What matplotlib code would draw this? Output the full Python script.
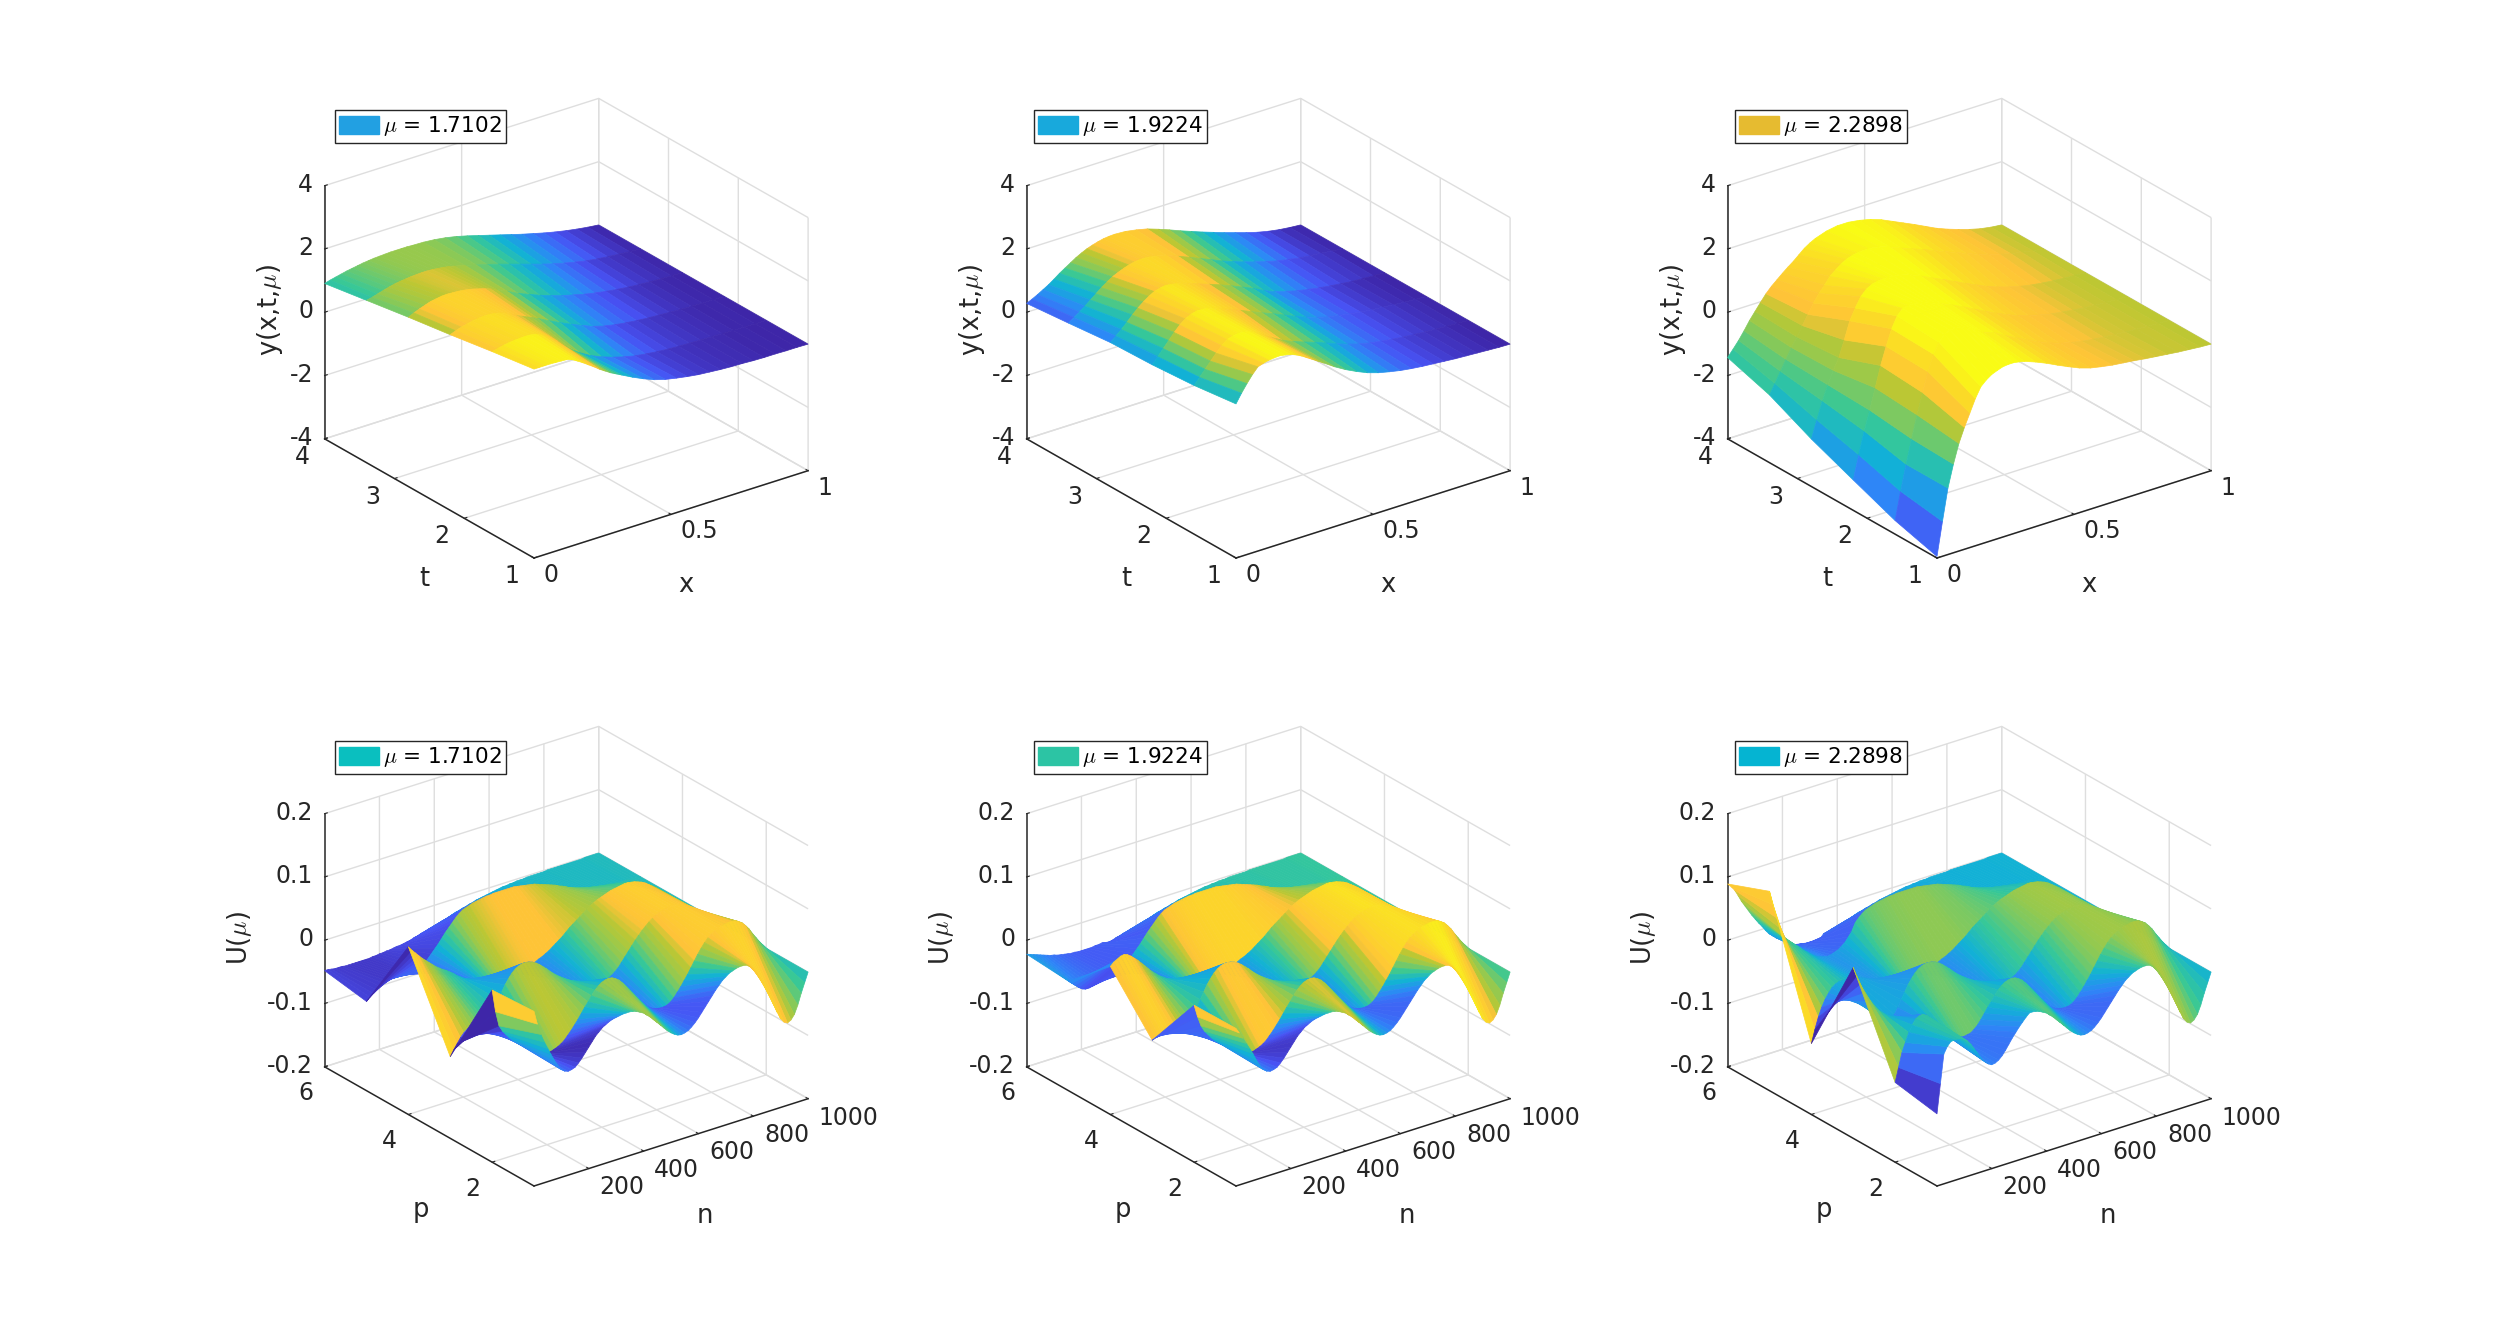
import matplotlib
matplotlib.use("Agg")
import matplotlib.pyplot as plt
import numpy as np
from matplotlib.colors import LinearSegmentedColormap, Normalize
from matplotlib.patches import Patch
from mpl_toolkits.mplot3d import proj3d

plt.rcParams['font.family'] = 'DejaVu Sans'
plt.rcParams['mathtext.fontset'] = 'cm'
plt.rcParams['grid.color'] = '#dedede'
plt.rcParams['grid.linewidth'] = 1.0

# --- values ---
x_grid = [i * 0.02 for i in range(17)] + [0.32 + i * 0.04 for i in range(1, 18)]
t_grid = [1, 1.6, 2.2, 2.8, 3.4, 4]
n_grid = [i * 12.5 for i in range(81)]
p_grid = [1, 2, 3, 4, 5, 6]

y_a = [
    [1.97,1.97,1.97,1.97,1.96,1.95,1.94,1.88,1.78,1.67,1.55,1.43,1.30,1.19,1.08,.99,.90,
     .72,.56,.42,.32,.25,.19,.14,.11,.08,.06,.05,.03,.02,.02,.01,.01,0],
    [1.77,1.81,1.85,1.88,1.90,1.91,1.92,1.91,1.88,1.80,1.70,1.57,1.42,1.26,1.10,.97,.85,
     .65,.50,.38,.28,.20,.15,.11,.08,.06,.05,.04,.03,.02,.01,.01,0,0],
    [1.55,1.62,1.68,1.72,1.76,1.78,1.80,1.80,1.78,1.74,1.68,1.60,1.50,1.42,1.34,1.26,1.18,
     1.00,.83,.67,.52,.38,.28,.21,.16,.12,.09,.07,.05,.03,.02,.01,.01,0],
    [1.35,1.43,1.50,1.56,1.62,1.65,1.68,1.69,1.68,1.67,1.65,1.62,1.58,1.53,1.48,1.42,1.35,
     1.18,1.00,.86,.72,.60,.49,.40,.31,.24,.18,.13,.09,.06,.04,.02,.01,0],
    [1.13,1.17,1.22,1.27,1.32,1.36,1.39,1.41,1.43,1.44,1.45,1.45,1.44,1.42,1.40,1.37,1.33,
     1.24,1.15,1.05,.95,.84,.73,.62,.51,.41,.32,.24,.17,.12,.08,.05,.02,0],
    [.91,.96,1.00,1.04,1.08,1.11,1.14,1.17,1.19,1.21,1.22,1.23,1.24,1.24,1.24,1.24,1.23,
     1.22,1.19,1.14,1.07,.98,.88,.78,.68,.58,.48,.39,.30,.22,.15,.09,.04,0],
]
y_b = [
    [.87,1.15,1.40,1.63,1.82,1.88,1.92,1.94,1.95,1.92,1.88,1.81,1.72,1.61,1.50,1.39,1.28,
     1.05,.85,.68,.53,.42,.34,.27,.22,.18,.15,.12,.09,.07,.05,.03,.01,0],
    [.70,.90,1.10,1.30,1.50,1.68,1.82,1.87,1.90,1.89,1.85,1.77,1.68,1.56,1.45,1.35,1.25,
     1.10,.97,.85,.72,.58,.46,.36,.28,.22,.17,.13,.10,.07,.05,.03,.01,0],
    [.60,.80,1.00,1.20,1.40,1.58,1.72,1.80,1.85,1.85,1.83,1.78,1.72,1.65,1.58,1.51,1.44,
     1.29,1.14,1.00,.85,.70,.56,.44,.35,.28,.22,.17,.13,.10,.07,.04,.02,0],
    [.55,.70,.85,1.02,1.20,1.36,1.50,1.62,1.72,1.77,1.80,1.78,1.75,1.70,1.65,1.59,1.52,
     1.40,1.27,1.13,.98,.83,.65,.50,.40,.31,.24,.18,.13,.09,.05,.03,.01,0],
    [.41,.53,.65,.78,.92,1.06,1.20,1.32,1.43,1.51,1.58,1.64,1.68,1.70,1.70,1.68,1.65,
     1.55,1.42,1.28,1.13,.98,.83,.70,.58,.47,.37,.28,.21,.15,.11,.08,.04,0],
    [.28,.36,.45,.55,.65,.77,.90,1.01,1.12,1.23,1.32,1.40,1.46,1.51,1.55,1.57,1.58,
     1.56,1.50,1.42,1.30,1.17,1.03,.90,.77,.65,.53,.42,.31,.21,.13,.07,.03,0],
]
y_c = [
    [-3.95,-2.90,-1.90,-1.20,-.60,-.15,.25,.65,.97,1.13,1.25,1.32,1.38,1.40,1.40,1.37,1.33,
     1.20,1.05,.88,.72,.57,.46,.39,.33,.29,.25,.20,.16,.12,.08,.05,.02,0],
    [-3.57,-2.70,-1.90,-1.15,-.45,.20,.80,1.30,1.62,1.82,1.90,1.90,1.88,1.80,1.72,1.62,1.50,
     1.38,1.18,1.00,.82,.65,.50,.38,.29,.22,.17,.13,.10,.07,.05,.03,.01,0],
    [-3.04,-2.30,-1.60,-1.00,-.35,.30,.85,1.35,1.70,1.88,1.92,1.92,1.88,1.84,1.78,1.72,1.65,
     1.50,1.33,1.15,.97,.80,.64,.50,.39,.30,.22,.17,.12,.08,.05,.03,.01,0],
    [-2.50,-1.95,-1.40,-.95,-.55,-.20,.30,.85,1.20,1.50,1.68,1.78,1.82,1.84,1.84,1.82,1.80,
     1.70,1.55,1.38,1.22,1.05,.88,.72,.56,.43,.32,.23,.16,.11,.07,.04,.02,0],
    [-1.86,-1.55,-1.22,-.90,-.58,-.30,0,.30,.60,.85,1.05,1.28,1.42,1.55,1.65,1.71,1.75,
     1.77,1.72,1.60,1.46,1.33,1.19,1.05,.90,.77,.62,.49,.37,.27,.18,.11,.05,0],
    [-1.43,-1.22,-1.00,-.75,-.48,-.25,-.02,.20,.38,.53,.68,.82,.95,1.10,1.25,1.36,1.45,
     1.57,1.63,1.63,1.58,1.50,1.38,1.22,1.06,.90,.73,.56,.42,.30,.19,.10,.04,0],
]

# U rows shared by the three lower panels, away from n = 0
u_rows = [
    [.076,.054,.036,.022,.010,-.001,-.012,-.022,-.030,-.034,
     -.036,-.035,-.033,-.028,-.022,-.015,-.008,-.001,.006,.011,
     .016,.019,.022,.024,.025,.026,.027,.027,.027,.026,
     .024,.021,.018,.013,.008,.002,-.004,-.010,-.016,-.022,
     -.027,-.031,-.034,-.035,-.034,-.032,-.028,-.023,-.017,-.010,
     -.003,.004,.011,.018,.024,.030,.034,.038,.040,.042,
     .043,.043,.042,.038,.032,.024,.015,.004,-.008,-.021,
     -.035,-.048,-.060,-.067,-.070,-.067,-.060,-.047,-.030,-.015, 0],
    [.072,.036,.012,.002,-.005,-.012,-.018,-.023,-.028,-.032,
     -.036,-.040,-.045,-.049,-.052,-.054,-.055,-.055,-.053,-.051,
     -.048,-.044,-.038,-.032,-.025,-.018,-.010,-.002,.005,.013,
     .020,.025,.029,.031,.032,.031,.028,.024,.018,.011,
     .004,-.004,-.012,-.019,-.026,-.031,-.035,-.038,-.040,-.041,
     -.041,-.040,-.037,-.032,-.025,-.018,-.010,-.002,.007,.016,
     .025,.033,.040,.046,.050,.053,.056,.058,.059,.060,
     .060,.059,.056,.052,.046,.039,.030,.022,.014,.007, 0],
    [-.071,-.062,-.054,-.046,-.040,-.036,-.033,-.031,-.030,-.030,
     -.030,-.029,-.025,-.016,-.005,.005,.015,.023,.030,.035,
     .038,.040,.040,.039,.037,.034,.030,.025,.020,.014,
     .008,.001,-.005,-.010,-.015,-.019,-.022,-.025,-.027,-.029,
     -.030,-.031,-.031,-.031,-.030,-.029,-.027,-.024,-.020,-.015,
     -.008,-.001,.006,.013,.020,.026,.032,.037,.042,.046,
     .049,.051,.053,.054,.055,.055,.055,.054,.052,.049,
     .046,.041,.036,.031,.025,.020,.015,.010,.006,.003, 0],
    [.065,.058,.052,.046,.040,.035,.030,.025,.020,.016,
     .012,.009,.005,.001,-.004,-.008,-.012,-.015,-.017,-.019,
     -.021,-.023,-.024,-.026,-.027,-.028,-.029,-.030,-.030,-.031,
     -.031,-.031,-.031,-.030,-.028,-.027,-.025,-.023,-.020,-.018,
     -.015,-.012,-.008,-.004,.000,.004,.009,.014,.018,.022,
     .026,.030,.034,.038,.041,.044,.046,.048,.050,.052,
     .053,.054,.055,.056,.056,.055,.054,.052,.050,.047,
     .043,.039,.035,.030,.025,.020,.015,.011,.007,.003, 0],
    [-.059,-.054,-.050,-.046,-.042,-.039,-.037,-.036,-.036,-.036,
     -.036,-.036,-.037,-.038,-.038,-.036,-.033,-.028,-.022,-.016,
     -.010,-.004,.003,.010,.016,.022,.028,.033,.037,.039,
     .041,.043,.044,.045,.046,.047,.047,.048,.048,.048,
     .048,.048,.048,.048,.047,.046,.045,.044,.043,.042,
     .040,.038,.036,.034,.032,.030,.027,.025,.022,.019,
     .017,.015,.013,.011,.010,.009,.008,.007,.006,.005,
     .005,.004,.003,.003,.002,.002,.002,.001,.001,.001, 0],
    [-.048,-.048,-.049,-.050,-.050,-.050,-.051,-.051,-.051,-.051,
     -.051,-.051,-.051,-.051,-.050,-.050,-.049,-.049,-.048,-.048,
     -.047,-.046,-.046,-.045,-.044,-.043,-.041,-.040,-.038,-.037,
     -.035,-.034,-.032,-.031,-.029,-.028,-.026,-.024,-.022,-.021,
     -.019,-.018,-.016,-.015,-.013,-.012,-.011,-.010,-.009,-.008,
     -.007,-.006,-.005,-.005,-.004,-.004,-.003,-.003,-.003,-.002,
     -.002,-.002,-.002,-.002,-.002,-.001,-.001,-.001,-.001,-.001,
     -.001,-.001,-.001,-.001,-.001,-.001,0,0,0,0, 0],
]
# first columns of each row, which differ from panel to panel
u_left_a = [[], [], [], [], [], []]
u_left_b = [
    [.049,.040,.030,.020,.010,0],
    [.048,.028,.012],
    [-.045,-.043,-.042,-.041,-.040,-.039,-.038,-.037,-.037,-.036,-.036],
    [.034,.039,.042,.045,.046,.044,.040,.035,.030,.024,.018,.012,.006,.001],
    [-.027,-.032,-.037,-.042,-.046,-.048,-.048,-.047,-.046,-.045,-.044,-.042,-.040,-.038,-.036,-.034,-.033],
    [-.022,-.024,-.026,-.028,-.030,-.032,-.034,-.036,-.037,-.039,-.040,-.041,-.042,-.043,-.043,-.044,
     -.044,-.044,-.044,-.044,-.043,-.043,-.042],
]
u_left_c = [
    [-.086,-.040,.005,.015,.021,.022,.022,.021,.018,.013,.006,-.003,-.012,-.021,-.028,-.033,-.036,
     -.035,-.032,-.027,-.020,-.012,-.004,.003,.010,.016,.022],
    [-.074,-.052,-.030,-.016,-.002,.008,.016,.019,.020,.017,.012,.004,-.005,-.013,-.020,-.025,-.028,
     -.031,-.034,-.035,-.036,-.035,-.034,-.030,-.025],
    [.070,.055,.040,.025,.010,-.002,-.012,-.020,-.026,-.030,-.033,-.030,-.025],
    [-.088,-.068,-.050,-.036,-.025,-.017,-.010,-.006,-.004,-.004,-.004,-.005,-.006,-.007,-.008,-.010,-.012],
    [.115,.092,.070,.052,.037,.030,.024,.020,.015,.010,.004,.000,-.005,-.009,-.012,-.014,-.016,
     -.017,-.016,-.014,-.012,-.008,-.004,.003,.010],
    [.089,.083,.076,.066,.055,.046,.037,.028,.020,.012,.005,-.003,-.010,-.015,-.020,-.024,-.028,
     -.032,-.036,-.039,-.041,-.042,-.043,-.044,-.044,-.044,-.044,-.044],
]

mu_labels = ['1.7102', '1.9224', '2.2898']
top_swatch = ['#22a0e2', '#18a9dc', '#e6bb30']
low_swatch = ['#0abfbf', '#2cc4a4', '#05b4d2']
top_clim = [(0, 1.98), (0, 1.92), (-4, 1.65)]
low_clim = [(-.058, .081), (-.061, .066), (-.074, .126)]

parula = LinearSegmentedColormap.from_list('parula14', [
    (0.0, (.2422, .1504, .6603)), (.111, (.2810, .3228, .9579)),
    (.238, (.1786, .5289, .9682)), (.365, (.0689, .6948, .8394)),
    (.492, (.2161, .7843, .5923)), (.62, (.58, .79, .31)), (.71, (.74, .78, .20)),
    (.76, (.9970, .7659, .2199)), (.9, (.985, .86, .15)),
    (1.0, (.9769, .9839, .0805))], N=256)

W, H = 2493, 1330
ASPECT = (344.8, 352.1, 281.8)
INK = '#262626'


def strip_colors(Z, clim):
    # each strip takes its colour from the row behind it, varying only along the row
    Z = np.asarray(Z, dtype=float)
    norm = Normalize(*clim)
    colors = np.zeros(Z.shape + (4,))
    mid = 0.5 * (Z[1:, :-1] + Z[1:, 1:])
    colors[:-1, :-1] = parula(norm(mid))
    return colors


def place_axes(ax, corner, lims):
    # scale and shift the box so its front floor corner lands on the pixel
    xl, yl, zl = lims
    ax.set_box_aspect(ASPECT, zoom=1)
    ax.set_position([(corner[0] - 500) / W, (H - corner[1] - 500) / H, 1000 / W, 1000 / H])
    ax.apply_aspect()

    def to_px(xv, yv):
        a, b, _ = proj3d.proj_transform(xv, yv, zl[0], ax.get_proj())
        return ax.transData.transform((a, b))

    dist = np.hypot(*(to_px(xl[1], yl[0]) - to_px(xl[0], yl[0])))
    ax.set_box_aspect(ASPECT, zoom=0.993 * np.hypot(276, 88) / dist)
    now = to_px(xl[0], yl[0])
    dx, dy = corner[0] - now[0], (H - corner[1]) - now[1]
    box = ax.get_position()
    ax.set_position([box.x0 + dx / W, box.y0 + dy / H, box.width, box.height])


def draw_panel(fig, Z, col_grid, row_grid, clim, corner, lims, ticks, labels, names, name_pos,
               tick_va, pads):
    ax = fig.add_axes([0, 0, 1, 1], projection='3d', proj_type='ortho')
    ax.view_init(elev=25.2, azim=-126.8)
    ax.patch.set_alpha(0)
    X, Y = np.meshgrid(col_grid, row_grid)
    ax.plot_surface(X, Y, np.asarray(Z), rstride=1, cstride=1, facecolors=strip_colors(Z, clim),
                    shade=False, linewidth=0.5, antialiased=True)
    ax.set_xlim(*lims[0], view_margin=0)
    ax.set_ylim(*lims[1], view_margin=0)
    ax.set_zlim(*lims[2], view_margin=0)
    ax.set_xticks(ticks[0], labels[0], ha='left', va='center')
    ax.set_yticks(ticks[1], labels[1], ha='right', va=tick_va)
    ax.set_zticks(ticks[2], labels[2], ha='right', va='center')
    for axis, pad in zip((ax.xaxis, ax.yaxis, ax.zaxis), pads):
        axis.set_pane_color((1, 1, 1, 0))
        axis.pane.set_edgecolor((1, 1, 1, 0))
        axis.line.set_color(INK)
        axis.line.set_linewidth(1.1)
        axis._axinfo['tick']['inward_factor'] = 0
        axis._axinfo['tick']['outward_factor'] = 0.12
        axis._axinfo['tick']['color'] = INK
        axis.set_tick_params(labelsize=17, labelcolor=INK, pad=pad, colors=INK)
    place_axes(ax, corner, lims)
    # axis titles sit by pixel offset from the front corner
    for name, pos, rot in zip(names, name_pos, (0, 0, 90)):
        fig.text((corner[0] + pos[0]) / W, 1 - (corner[1] + pos[1]) / H, name, rotation=rot,
                 fontsize=18.5, color=INK, ha='center', va='center')
    return ax


def add_key(fig, left, top, color, mu):
    fig.legend(handles=[Patch(facecolor=color, edgecolor=color)], labels=[r'$\mu$ = ' + mu],
               loc='upper left', bbox_to_anchor=(left / W, 1 - top / H), borderaxespad=0,
               fontsize=15.6, handlelength=1.85, handleheight=0.9, handletextpad=0.15,
               borderpad=0.2, fancybox=False, framealpha=1, edgecolor=INK, labelcolor='black')


fig = plt.figure(figsize=(W / 100, H / 100), dpi=100, facecolor='white')

top_tables = [y_a, y_b, y_c]
low_lefts = [u_left_a, u_left_b, u_left_c]
front_x = [534, 1236, 1937]
key_x = [335, 1034, 1735]
top_name_pos = [(152, 27), (-110, 21), (-264, -248)]
low_name_pos = [(171, 30), (-113, 24), (-294, -248)]

for i in range(3):
    draw_panel(fig, top_tables[i], x_grid, t_grid, top_clim[i], (front_x[i], 558),
               ((0, 1), (1, 4), (-4, 4)),
               ([0, .5, 1], [1, 2, 3, 4], [-4, -2, 0, 2, 4]),
               (['0', '0.5', '1'], ['1', '2', '3', '4'], ['-4', '-2', '0', '2', '4']),
               ('x', 't', r'y(x,t,$\mu$)'), top_name_pos, 'center', (9, 12, 1))
    add_key(fig, key_x[i], 110, top_swatch[i], mu_labels[i])

    table = np.array(u_rows, dtype=float)
    for row, vals in enumerate(low_lefts[i]):
        table[row, :len(vals)] = vals
    draw_panel(fig, table, n_grid, p_grid, low_clim[i], (front_x[i], 1186),
               ((0, 1000), (1, 6), (-.2, .2)),
               ([200, 400, 600, 800, 1000], [2, 4, 6], [-.2, -.1, 0, .1, .2]),
               (['200', '400', '600', '800', '1000'], ['2', '4', '6'],
                ['-0.2', '-0.1', '0', '0.1', '0.2']),
               ('n', 'p', r'U($\mu$)'), low_name_pos, 'top', (11, 8, 1))
    add_key(fig, key_x[i], 741, low_swatch[i], mu_labels[i])

fig.savefig('out.png', dpi=100)
